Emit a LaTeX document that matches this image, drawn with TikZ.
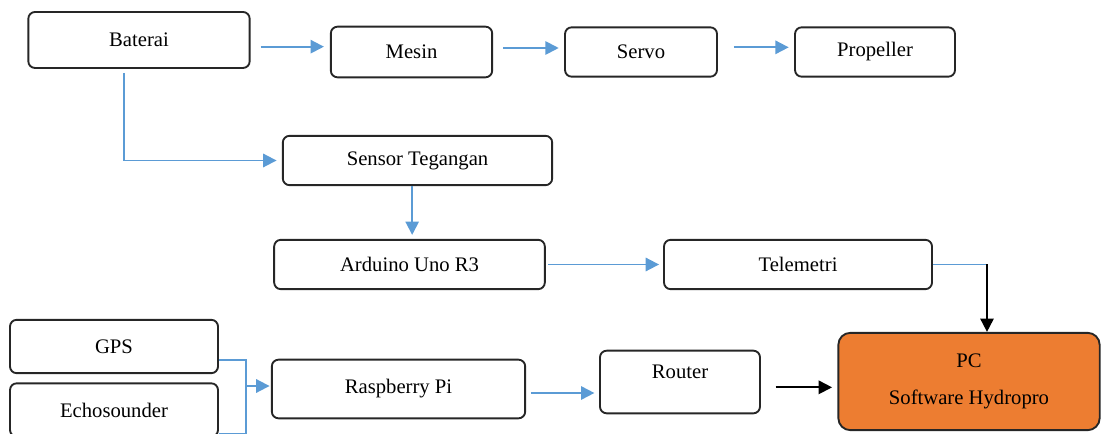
\documentclass[tikz,border=0pt]{standalone}
\usepackage{fontspec}
\setmainfont{Liberation Serif}
\usepackage{xcolor}
\usepackage{tikz}
\usetikzlibrary{arrows.meta, positioning, calc}

\definecolor{flowblue}{HTML}{5B9BD5}
\definecolor{pcorange}{HTML}{ED7D31}

\begin{document}
\begin{tikzpicture}[
    x=0.75pt, y=-0.75pt,
    font=\fontsize{15.5}{18}\selectfont,
    % Box styling
    block/.style={draw=black!85, line width=1.4pt, rectangle, rounded corners=5pt, fill=white, inner sep=0pt, align=center},
    pcblock/.style={block, fill=pcorange, rounded corners=9pt},
    % Arrow styling
    flow/.style={-{Triangle[length=10pt, width=10pt]}, draw=flowblue, line width=1.4pt},
    flowline/.style={draw=flowblue, line width=1.4pt},
    blackflow/.style={-{Triangle[length=10pt, width=10pt]}, draw=black, line width=1.4pt}
]
\useasboundingbox (0,0) rectangle (1102,434);

% ---------------------------------------------------
% 1. NODES (pixel grid of the reference)
% ---------------------------------------------------

% Power line
\node[block, minimum width=166pt, minimum height=42pt] (baterai) at (139, 40) {Baterai};
\node[block, minimum width=121pt, minimum height=38pt] (mesin) at (411.5, 52) {Mesin};
\node[block, minimum width=114pt, minimum height=37pt] (servo) at (641, 52) {Servo};
\node[block, minimum width=120pt, minimum height=37pt] (propeller) at (875, 52) {Propeller};

% Voltage monitoring
\node[block, minimum width=202pt, minimum height=37pt] (sensor) at (417.5, 160.5) {Sensor Tegangan};
\node[block, minimum width=203pt, minimum height=37pt] (arduino) at (409.5, 264.5) {Arduino Uno R3};
\node[block, minimum width=201pt, minimum height=37pt] (telemetri) at (798, 264.5) {Telemetri};

% Survey data
\node[block, minimum width=156pt, minimum height=40pt] (gps) at (114, 346.5) {GPS};
\node[block, minimum width=156pt, minimum height=40pt] (echo) at (114, 410) {Echosounder};
\node[block, minimum width=190pt, minimum height=44pt] (raspi) at (398.5, 389) {Raspberry Pi};
\node[block, minimum width=120pt, minimum height=47pt, text depth=16pt] (router) at (680, 382) {Router};
\node[pcblock, minimum width=196pt, minimum height=73pt] (pc) at (969, 381.5) {PC\\[10pt]Software Hydropro};

% Bend points
\coordinate (tbend) at (987, 264.5);
\coordinate (merge) at (246, 386);

% ---------------------------------------------------
% 2. CONNECTIONS
% ---------------------------------------------------

% Baterai -> Mesin -> Servo -> Propeller
\draw[flow, shorten <=7.5pt, shorten >=4.5pt] ([yshift=-5pt]baterai.east) -- ([yshift=-5pt]baterai.east -| mesin.west);
\draw[flow, shorten <=7.5pt, shorten >=4pt] ([yshift=3pt]mesin.east) -- ([yshift=3pt]servo.west);
\draw[flow, shorten <=12pt, shorten >=4pt] ([yshift=3.5pt]servo.east) -- ([yshift=3.5pt]propeller.west);

% Baterai -> Sensor -> Arduino -> Telemetri -> PC
\draw[flow, shorten <=3pt, shorten >=4pt] ([xshift=-11pt]baterai.south) |- (sensor.west);
\draw[flow, shorten >=3pt] ([xshift=-4pt]sensor.south) -- ([xshift=-4pt]sensor.south |- arduino.north);
\draw[flow, shorten <=2pt, shorten >=3pt] (arduino.east) -- (telemetri.west);
\draw[flowline] (telemetri.east) -- (tbend);
\draw[blackflow] (tbend) -- (tbend |- pc.north);

% GPS + Echosounder -> Raspberry Pi -> Router -> PC
\draw[flowline] ([yshift=-10pt]gps.east) -| (merge);
\draw[flowline] ([yshift=-18pt]echo.east) -| (merge);
\draw[flow, shorten >=1pt] (merge) -- (merge -| raspi.west);
\draw[flow, shorten <=3.5pt, shorten >=3.5pt] ([yshift=-3pt]raspi.east) -- ([yshift=-3pt]raspi.east -| router.west);
\draw[blackflow, shorten <=11pt, shorten >=4pt] ([yshift=-4pt]router.east) -- ([yshift=-4pt]router.east -| pc.west);

\end{tikzpicture}
\end{document}
